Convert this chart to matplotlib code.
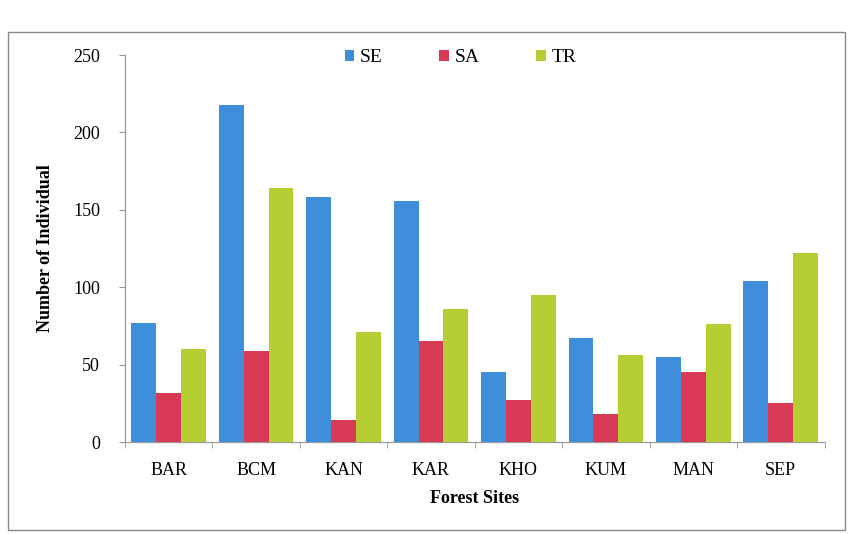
import matplotlib
matplotlib.use("Agg")
import matplotlib.pyplot as plt
import numpy as np
from matplotlib.patches import Rectangle

plt.rcParams["font.family"] = ["Liberation Serif", "DejaVu Serif"]

sites = ["BAR", "BCM", "KAN", "KAR", "KHO", "KUM", "MAN", "SEP"]
se = [77, 218, 158, 156, 45, 67, 55, 104]
sa = [32, 59, 14, 65, 27, 18, 45, 25]
tr = [60, 164, 71, 86, 95, 56, 76, 122]
series = ["SE", "SA", "TR"]
colours = ["#3F8EDC", "#D83A55", "#B6CD34"]

fig = plt.figure(figsize=(8.5, 5.34), dpi=100)
ax = fig.add_axes([0.147, 0.172, 0.823, 0.725])

x = np.arange(len(sites))
w = 0.285
for i, (vals, name, c) in enumerate(zip([se, sa, tr], series, colours)):
    ax.bar(x + (i - 1) * w, vals, width=w, color=c, label=name, zorder=3)

ax.set_xlim(-0.5, len(sites) - 0.5)
ax.set_ylim(0, 250)
ax.set_yticks(range(0, 251, 50))
ax.set_xticks(x)
ax.set_xticklabels(sites, fontsize=13)
ax.set_xticks(np.arange(-0.5, len(sites)), minor=True)
ax.tick_params(axis="x", which="major", length=0, pad=14)
ax.tick_params(axis="x", which="minor", length=4, color="#999999")
ax.tick_params(axis="y", length=4, color="#999999", labelsize=13, pad=14)

for s in ["top", "right"]:
    ax.spines[s].set_visible(False)
for s in ["left", "bottom"]:
    ax.spines[s].set_color("#999999")
    ax.spines[s].set_linewidth(0.9)

ax.set_ylabel("Number of Individual", fontsize=13, fontweight="bold", labelpad=14)
ax.set_xlabel("Forest Sites", fontsize=13, fontweight="bold", labelpad=8)

ax.legend(loc="upper center", bbox_to_anchor=(0.48, 1.06), ncol=3, frameon=False,
          fontsize=14, handlelength=0.5, handleheight=0.5, handletextpad=0.3,
          columnspacing=2.9)

# outer chart frame
fig.patches.append(Rectangle((8 / 850, 4 / 534), 837 / 850, 498 / 534,
                             transform=fig.transFigure, fill=False,
                             edgecolor="#888888", linewidth=1.0))

fig.savefig("out.png", dpi=100, facecolor="white")
